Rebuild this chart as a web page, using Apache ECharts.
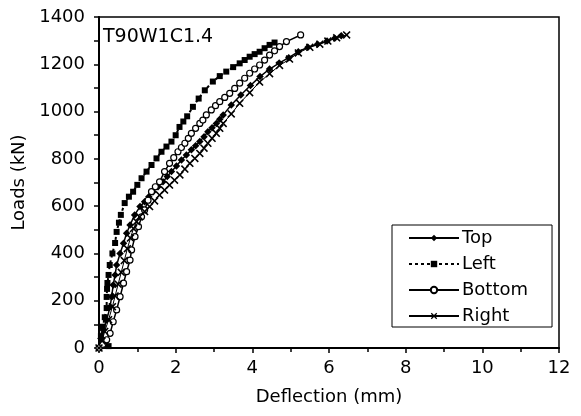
<!DOCTYPE html>
<html>
<head>
<meta charset="utf-8">
<script src="https://cdn.jsdelivr.net/npm/echarts@6/dist/echarts.min.js"></script>
<style>
html,body{margin:0;padding:0;background:#fff;}
#chart{width:581px;height:416px;}
</style>
</head>
<body>
<div id="chart"></div>
<script>
const chartTitle = "T90W1C1.4";
const seriesNames = ["Top", "Left", "Bottom", "Right"];
const xTicks = [0, 2, 4, 6, 8, 10, 12];
const yTicks = [0, 200, 400, 600, 800, 1000, 1200, 1400];

const topX = [0, 0.05, 0.11, 0.2, 0.29, 0.33, 0.37, 0.42, 0.46, 0.55, 0.64, 0.72, 0.81, 0.93, 1.07, 1.19, 1.3, 1.41, 1.54, 1.67, 1.78, 1.89, 2.02, 2.15, 2.28, 2.41, 2.52, 2.63, 2.74, 2.84, 2.95, 3.06, 3.15, 3.24, 3.45, 3.7, 3.95, 4.2, 4.45, 4.7, 4.95, 5.2, 5.45, 5.7, 5.95, 6.15, 6.32];
const topY = [0, 40, 76, 118, 175, 217, 266, 309, 351, 400, 443, 485, 520, 563, 598, 619, 640, 661, 682, 703, 725, 746, 770, 795, 816, 838, 855, 873, 894, 915, 932, 950, 968, 986, 1028, 1070, 1110, 1148, 1180, 1205, 1228, 1253, 1272, 1285, 1298, 1310, 1321];

const leftX = [0, 0.25, 0.05, 0.1, 0.15, 0.2, 0.2, 0.21, 0.22, 0.25, 0.28, 0.35, 0.42, 0.46, 0.52, 0.57, 0.67, 0.78, 0.89, 1.0, 1.11, 1.24, 1.37, 1.5, 1.63, 1.76, 1.89, 2.0, 2.1, 2.2, 2.3, 2.45, 2.6, 2.76, 2.97, 3.15, 3.32, 3.5, 3.67, 3.8, 3.93, 4.06, 4.19, 4.32, 4.45, 4.58];
const leftY = [0, 8, 50, 90, 130, 169, 216, 250, 275, 309, 351, 400, 444, 491, 530, 563, 613, 640, 661, 690, 718, 746, 774, 802, 830, 852, 873, 900, 935, 958, 980, 1020, 1055, 1090, 1127, 1150, 1169, 1188, 1204, 1218, 1232, 1243, 1253, 1268, 1282, 1292];

const bottomX = [0, 0.1, 0.2, 0.29, 0.37, 0.46, 0.55, 0.64, 0.72, 0.81, 0.85, 0.94, 1.03, 1.11, 1.19, 1.28, 1.37, 1.47, 1.58, 1.71, 1.84, 1.95, 2.06, 2.15, 2.24, 2.33, 2.41, 2.52, 2.63, 2.71, 2.8, 2.93, 3.04, 3.15, 3.28, 3.41, 3.54, 3.67, 3.8, 3.93, 4.06, 4.19, 4.32, 4.45, 4.58, 4.71, 4.89, 5.26];
const bottomY = [0, 15, 35, 62, 111, 161, 217, 274, 323, 372, 415, 471, 513, 555, 584, 625, 661, 682, 703, 746, 781, 805, 830, 848, 866, 887, 908, 929, 950, 964, 986, 1007, 1025, 1042, 1060, 1077, 1098, 1120, 1141, 1162, 1180, 1197, 1218, 1239, 1257, 1275, 1296, 1324];

const rightX = [0, 0.08, 0.15, 0.25, 0.35, 0.42, 0.5, 0.58, 0.66, 0.74, 0.82, 0.9, 0.98, 1.06, 1.19, 1.32, 1.45, 1.58, 1.71, 1.84, 1.97, 2.11, 2.24, 2.37, 2.5, 2.63, 2.74, 2.84, 2.95, 3.06, 3.15, 3.24, 3.45, 3.67, 3.93, 4.19, 4.45, 4.71, 4.97, 5.2, 5.5, 5.76, 5.97, 6.2, 6.46];
const rightY = [0, 30, 70, 120, 175, 220, 270, 320, 370, 420, 465, 505, 535, 555, 577, 598, 622, 647, 668, 689, 710, 732, 757, 781, 802, 823, 845, 866, 887, 908, 929, 950, 990, 1035, 1080, 1125, 1160, 1195, 1222, 1248, 1272, 1285, 1298, 1312, 1324];

const FONT = "DejaVu Sans";
const crossPath = "path://M0,1.4L1.4,0L5,3.6L8.6,0L10,1.4L6.4,5L10,8.6L8.6,10L5,6.4L1.4,10L0,8.6L3.6,5Z";

function pairs(xs, ys) { return xs.map((x, i) => [x, ys[i]]); }

const chart = echarts.init(document.getElementById('chart'), null, {renderer: 'canvas'});
chart.setOption({
  animation: false,
  backgroundColor: '#fff',
  title: {
    text: chartTitle, left: 103, top: 28, padding: 0,
    textStyle: {fontFamily: FONT, fontSize: 19, fontWeight: 'normal', color: '#000'}
  },
  grid: {left: 99, right: 22, top: 17, bottom: 68, show: true, borderColor: '#000', borderWidth: 1.5, backgroundColor: 'transparent'},
  legend: {
    orient: 'vertical', left: 392, top: 225,
    data: seriesNames,
    backgroundColor: '#fff', borderColor: '#000', borderWidth: 1,
    padding: [4, 24, 2, 16],
    itemWidth: 50, itemHeight: 8, itemGap: 8,
    textStyle: {fontFamily: FONT, fontSize: 18, color: '#000', lineHeight: 18, padding: [0,0,0,-2]}
  },
  xAxis: {
    type: 'value', min: 0, max: 12, interval: 2,
    name: 'Deflection (mm)', nameLocation: 'middle', nameGap: 40,
    nameTextStyle: {fontFamily: FONT, fontSize: 18, color: '#000'},
    axisLine: {show: true, onZero: false, lineStyle: {color: '#000', width: 2}},
    axisTick: {show: true, inside: false, length: 5, lineStyle: {color: '#000', width: 1.5}},
    minorTick: {show: true, splitNumber: 2, length: 4, lineStyle: {color: '#000', width: 1.5}},
    axisLabel: {fontFamily: FONT, fontSize: 18, color: '#000', margin: 11, formatter: v => xTicks.includes(v) ? String(v) : ''},
    splitLine: {show: false}
  },
  yAxis: {
    type: 'value', min: 0, max: 1400, interval: 200,
    name: 'Loads (kN)', nameLocation: 'middle', nameGap: 61, nameRotate: 90,
    nameTextStyle: {fontFamily: FONT, fontSize: 18, color: '#000'},
    axisLine: {show: true, onZero: false, lineStyle: {color: '#000', width: 2}},
    axisTick: {show: true, inside: false, length: 5, lineStyle: {color: '#000', width: 1.5}},
    minorTick: {show: true, splitNumber: 2, length: 5, lineStyle: {color: '#000', width: 1.5}},
    axisLabel: {fontFamily: FONT, fontSize: 18, color: '#000', margin: 14, formatter: v => yTicks.includes(v) ? String(v) : ''},
    splitLine: {show: false}
  },
  series: [
    {
      name: seriesNames[0], type: 'line', data: pairs(topX, topY),
      symbol: 'diamond', symbolSize: 7.5, showAllSymbol: true,
      lineStyle: {color: '#000', width: 1.5, type: 'solid'},
      itemStyle: {color: '#000'}
    },
    {
      name: seriesNames[1], type: 'line', data: pairs(leftX, leftY),
      symbol: 'rect', symbolSize: 6, showAllSymbol: true,
      lineStyle: {color: '#000', width: 2, type: [3, 3]},
      itemStyle: {color: '#000'}
    },
    {
      name: seriesNames[2], type: 'line', data: pairs(bottomX, bottomY),
      symbol: 'circle', symbolSize: 6, showAllSymbol: true,
      lineStyle: {color: '#000', width: 1.5, type: 'solid'},
      itemStyle: {color: '#fff', borderColor: '#000', borderWidth: 1.2}
    },
    {
      name: seriesNames[3], type: 'line', data: pairs(rightX, rightY),
      symbol: crossPath, symbolSize: 8, showAllSymbol: true,
      lineStyle: {color: '#000', width: 1, type: 'solid'},
      itemStyle: {color: '#000'}
    }
  ]
});
</script>
</body>
</html>
